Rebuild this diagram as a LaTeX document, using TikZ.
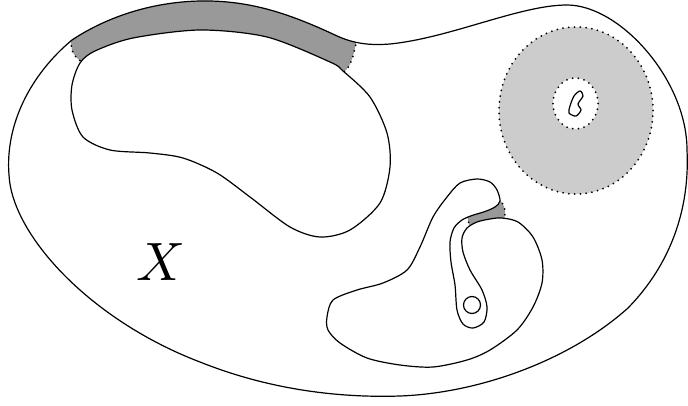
\documentclass[tikz,border=0pt]{standalone}
\begin{document}
\begin{tikzpicture}[x=1pt,y=-1pt,
  curve/.style={line width=1.2pt, black},
  dotline/.style={line width=2pt, dash pattern=on 0pt off 5.8pt, line cap=round},
  darkfill/.style={fill=black!40},
  lightfill/.style={fill=black!20}]
\useasboundingbox (0,0) rectangle (688,405);
% grey collar band at the top
\begin{scope}
\clip (72,40) .. controls (30,75) and (5,125) .. (9,175)
  .. controls (12,235) and (90,320) .. (200,362)
  .. controls (270,390) and (340,398) .. (400,396)
  .. controls (480,393) and (570,360) .. (628,308)
  .. controls (670,265) and (690,210) .. (687,150)
  .. controls (687,80) and (620,5) .. (567,5)
  .. controls (520,5) and (450,38) .. (390,44)
  .. controls (365,46) and (350,42) .. (335,35)
  .. controls (290,14) and (250,0) .. (200,1)
  .. controls (150,2) and (105,18) .. (72,40) -- cycle;
\fill[darkfill] plot[smooth] coordinates {(90,66) (82,62) (76,57) (72,50) (71,39) (72,26)} -- (72,-20) -- (358,-20) -- plot[smooth] coordinates {(358,28) (356,43) (353,56) (349,66) (344,72) (338,77)} -- cycle;
\draw[dotline] plot[smooth] coordinates {(90,66) (82,62) (76,57) (72,50) (71,39) (72,26)};
\draw[dotline] plot[smooth] coordinates {(358,28) (356,43) (353,56) (349,66) (344,72) (338,77)};
\end{scope}
% kidney hole
\fill[white] plot[smooth cycle] coordinates {(80,63) (95,51) (133,38) (200,30) (267,37) (330,62) (343,71) (370,97) (387,133) (390,167) (380,203) (350,230) (320,237) (290,227) (250,197) (217,173) (183,158) (150,153) (110,150) (83,137) (72,110) (72,85)};
\draw[curve] plot[smooth cycle] coordinates {(80,63) (95,51) (133,38) (200,30) (267,37) (330,62) (343,71) (370,97) (387,133) (390,167) (380,203) (350,230) (320,237) (290,227) (250,197) (217,173) (183,158) (150,153) (110,150) (83,137) (72,110) (72,85)};
% outer boundary
\draw[curve] (72,40) .. controls (30,75) and (5,125) .. (9,175)
  .. controls (12,235) and (90,320) .. (200,362)
  .. controls (270,390) and (340,398) .. (400,396)
  .. controls (480,393) and (570,360) .. (628,308)
  .. controls (670,265) and (690,210) .. (687,150)
  .. controls (687,80) and (620,5) .. (567,5)
  .. controls (520,5) and (450,38) .. (390,44)
  .. controls (365,46) and (350,42) .. (335,35)
  .. controls (290,14) and (250,0) .. (200,1)
  .. controls (150,2) and (105,18) .. (72,40) -- cycle;
% small grey patch in the neck
\fill[darkfill] (466,211) -- (494,199) -- (499,199) .. controls (506,206) and (506,213) .. (503,224) -- (471,233) -- cycle;
\draw[dotline] (466,211) -- (471,233);
\draw[dotline] (499,199) .. controls (506,206) and (506,213) .. (503,224);
% lower blob
\fill[white] plot[smooth cycle] coordinates {(327,317) (333,300) (357,290) (383,283) (407,270) (420,247) (433,217) (447,197) (460,183) (477,179) (490,182) (497,190) (500,201) (495,207) (485,211.5) (472,215.5) (462,220) (454,228) (450,242) (451,262) (455,285) (457,310) (463,324) (473,328) (484,322) (487,307) (482,290) (470,270) (463,252) (462,238) (467,228) (477,222) (490,219) (502,218) (518,222) (533,237) (542,260) (542,283) (533,307) (517,330) (490,350) (467,360) (433,367) (400,365) (367,358) (340,343) (328,330)};
\draw[curve] plot[smooth cycle] coordinates {(327,317) (333,300) (357,290) (383,283) (407,270) (420,247) (433,217) (447,197) (460,183) (477,179) (490,182) (497,190) (500,201) (495,207) (485,211.5) (472,215.5) (462,220) (454,228) (450,242) (451,262) (455,285) (457,310) (463,324) (473,328) (484,322) (487,307) (482,290) (470,270) (463,252) (462,238) (467,228) (477,222) (490,219) (502,218) (518,222) (533,237) (542,260) (542,283) (533,307) (517,330) (490,350) (467,360) (433,367) (400,365) (367,358) (340,343) (328,330)};
\draw[curve] (472,305) circle [radius=8.5pt];
% grey annulus
\fill[lightfill] (576,110.5) ellipse [x radius=77pt, y radius=83.5pt];
\fill[white] (575.5,103.5) ellipse [x radius=22.5pt, y radius=25.5pt];
\draw[dotline] (576,110.5) ellipse [x radius=77pt, y radius=83.5pt];
\draw[dotline] (575.5,103.5) ellipse [x radius=22.5pt, y radius=25.5pt];
\draw[curve] plot[smooth cycle] coordinates {(580,91) (583,96) (578,104) (581,110) (576,116) (569,113) (570,106) (574,96)};
% label
\node[scale=5.4, inner sep=0pt] (xlabel) at (161,262) {$X$};
\end{tikzpicture}
\end{document}
